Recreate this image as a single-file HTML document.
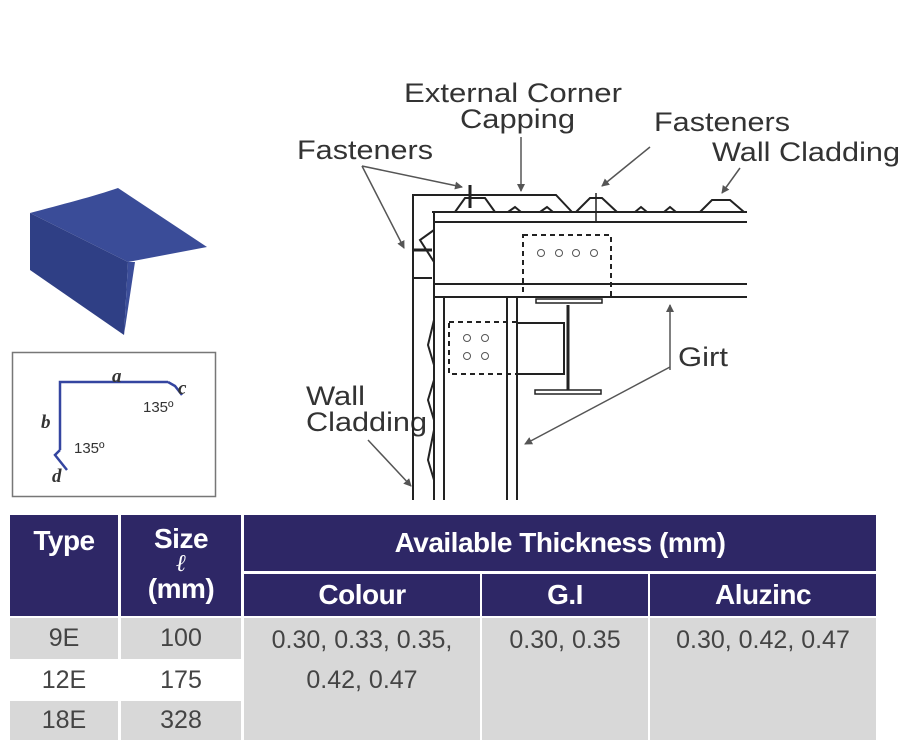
<!DOCTYPE html>
<html><head><style>
body{margin:0;width:900px;height:750px;background:#fff;position:relative;overflow:hidden;font-family:"Liberation Sans",Arial,sans-serif}
.c{position:absolute;display:flex;align-items:center;justify-content:center;text-align:center}
.h{background:#2e2766;color:#fff;font-weight:bold;font-size:28px;letter-spacing:-0.5px}
.g{background:#d8d8d8;color:#444;font-size:25px}
.w{background:#fff;color:#444;font-size:25px}
</style></head><body>
<svg width="900" height="510" style="position:absolute;left:0;top:0" font-family="Liberation Sans, Arial, sans-serif">
<defs><marker id="a" markerWidth="8" markerHeight="8" refX="7" refY="4" orient="auto" markerUnits="userSpaceOnUse"><path d="M0,0 L8,4 L0,8z" fill="#555"/></marker></defs>
<path d="M30,213 C60,205 95,196 118,188 L207,247 L128,262 Z" fill="#3a4c98"/>
<path d="M30,213 L128,262 L124,335 L30,270 Z" fill="#2f3f85"/>
<path d="M128,262 L135,262 L124,335 Z" fill="#3b4d99"/>
<rect x="12.5" y="352.5" width="203" height="144" fill="none" stroke="#777" stroke-width="1.5"/>
<path d="M168,382 L60,382 L60,450 M60,450 L55,455 L67,470 M168,382 L175,386 L182,395" fill="none" stroke="#3445a0" stroke-width="2.5"/>
<text x="112" y="382" font-family="Liberation Serif" font-style="italic" font-weight="bold" font-size="19" fill="#333">a</text>
<text x="41" y="428" font-family="Liberation Serif" font-style="italic" font-weight="bold" font-size="19" fill="#333">b</text>
<text x="178" y="394" font-family="Liberation Serif" font-style="italic" font-weight="bold" font-size="19" fill="#333">c</text>
<text x="52" y="482" font-family="Liberation Serif" font-style="italic" font-weight="bold" font-size="19" fill="#333">d</text>
<text x="143" y="412" font-size="15" fill="#333">135º</text>
<text x="74" y="453" font-size="15" fill="#333">135º</text>
<g font-size="27" fill="#333">
<text x="404" y="102" textLength="218" lengthAdjust="spacingAndGlyphs">External Corner</text>
<text x="460" y="128" textLength="115" lengthAdjust="spacingAndGlyphs">Capping</text>
<text x="297" y="159" textLength="136" lengthAdjust="spacingAndGlyphs">Fasteners</text>
<text x="654" y="131" textLength="136" lengthAdjust="spacingAndGlyphs">Fasteners</text>
<text x="712" y="161" textLength="188" lengthAdjust="spacingAndGlyphs">Wall Cladding</text>
<text x="306" y="405" textLength="59" lengthAdjust="spacingAndGlyphs">Wall</text>
<text x="306" y="431" textLength="121" lengthAdjust="spacingAndGlyphs">Cladding</text>
<text x="678" y="366" textLength="50" lengthAdjust="spacingAndGlyphs">Girt</text>
</g>
<g stroke="#555" stroke-width="1.5" fill="none" marker-end="url(#a)">
<line x1="362" y1="166" x2="462" y2="187"/>
<line x1="362" y1="166" x2="404" y2="248"/>
<line x1="521" y1="137" x2="521" y2="191"/>
<line x1="650" y1="147" x2="602" y2="186"/>
<line x1="740" y1="168" x2="722" y2="193"/>
<line x1="368" y1="440" x2="411" y2="486"/>
<line x1="670" y1="370" x2="670" y2="305"/>
<line x1="670" y1="367" x2="525" y2="444"/>
</g>
<g stroke="#222" stroke-width="2" fill="none">
<path d="M413,500 L413,278 L432,278"/>
<path d="M413,278 L413,195 L556,195 L572,212"/>
<path d="M455,212 L465,198 L485,198 L495,212 M508,212 L515,207 L521,212 M540,212 L547,207 L553,212 M576,212 L590,198 L602,198 L617,212 M635,212 L641,207 L647,212 M664,212 L670,207 L676,212 M700,212 L712,200 L730,200 L744,212"/>
<line x1="432" y1="212" x2="747" y2="212"/>
<line x1="435" y1="222" x2="747" y2="222"/>
<line x1="435" y1="284" x2="747" y2="284"/>
<line x1="435" y1="297" x2="747" y2="297"/>
<line x1="434" y1="212" x2="434" y2="500"/>
<line x1="444" y1="297" x2="444" y2="500"/>
<line x1="507" y1="297" x2="507" y2="500"/>
<line x1="517" y1="297" x2="517" y2="500"/>
<path d="M434,230 L420,240 L434,262"/>
<path d="M434,320 L428,345 L434,365 M434,380 L428,400 L434,420 M434,430 L428,460 L434,480"/>
<path d="M517,323 L564,323 L564,374 L517,374"/>
<line x1="568" y1="305" x2="568" y2="390" stroke-width="3"/>
<rect x="535" y="390" width="66" height="4" stroke-width="1.5"/>
<rect x="536" y="299" width="66" height="4" stroke-width="1.5"/>
<line x1="596" y1="193" x2="596" y2="222" stroke-width="1.5"/>
<line x1="470" y1="185" x2="470" y2="208" stroke-width="3"/>
<line x1="412" y1="250" x2="432" y2="250" stroke-width="3"/>
</g>
<g stroke="#222" stroke-width="2" fill="none" stroke-dasharray="5,4">
<rect x="523" y="235" width="88" height="62"/>
<rect x="449" y="322" width="68" height="52"/>
</g>
<g stroke="#555" stroke-width="1" fill="none">
<circle cx="541" cy="253" r="3.5"/><circle cx="559" cy="253" r="3.5"/><circle cx="576" cy="253" r="3.5"/><circle cx="594" cy="253" r="3.5"/>
<circle cx="467" cy="338" r="3.5"/><circle cx="485" cy="338" r="3.5"/><circle cx="467" cy="356" r="3.5"/><circle cx="485" cy="356" r="3.5"/>
</g>
</svg>
<div class="c h" style="left:10px;top:515px;width:108px;height:101px;align-items:flex-start;padding-top:10px;box-sizing:border-box">Type</div>
<div class="c h" style="left:121px;top:515px;width:120px;height:101px;flex-direction:column;justify-content:flex-start;padding-top:10px;box-sizing:border-box;line-height:28px">Size<span style="font-family:'Liberation Serif';font-style:italic;font-size:24px;line-height:22px">ℓ</span>(mm)</div>
<div class="c h" style="left:244px;top:515px;width:632px;height:56px">Available Thickness (mm)</div>
<div class="c h" style="left:244px;top:574px;width:236px;height:42px">Colour</div>
<div class="c h" style="left:482px;top:574px;width:166px;height:42px">G.I</div>
<div class="c h" style="left:650px;top:574px;width:226px;height:42px">Aluzinc</div>
<div class="c g" style="left:10px;top:618px;width:108px;height:41px">9E</div>
<div class="c g" style="left:121px;top:618px;width:120px;height:41px">100</div>
<div class="c w" style="left:10px;top:660px;width:108px;height:40px">12E</div>
<div class="c w" style="left:121px;top:660px;width:120px;height:40px">175</div>
<div class="c g" style="left:10px;top:701px;width:108px;height:39px">18E</div>
<div class="c g" style="left:121px;top:701px;width:120px;height:39px">328</div>
<div class="c g" style="left:244px;top:618px;width:236px;height:122px;align-items:flex-start;line-height:40px;padding-top:2px;box-sizing:border-box">0.30, 0.33, 0.35,<br>0.42, 0.47</div>
<div class="c g" style="left:482px;top:618px;width:166px;height:122px;align-items:flex-start;line-height:40px;padding-top:2px;box-sizing:border-box">0.30, 0.35</div>
<div class="c g" style="left:650px;top:618px;width:226px;height:122px;align-items:flex-start;line-height:40px;padding-top:2px;box-sizing:border-box">0.30, 0.42, 0.47</div>
</body></html>
